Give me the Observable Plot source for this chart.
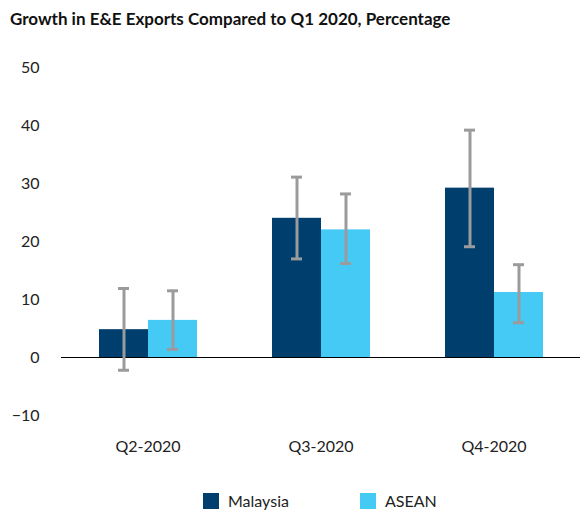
<!DOCTYPE html>
<html><head><meta charset="utf-8">
<script src="https://cdn.jsdelivr.net/npm/d3@7"></script>
<script src="https://cdn.jsdelivr.net/npm/@observablehq/plot@0.6"></script>
<style>
body{margin:0;background:#fff;font-family:Lato,"Noto Sans",sans-serif;}
#wrap{position:relative;width:587px;height:511px;}
#title{position:absolute;left:10px;top:8px;font-size:17px;font-weight:700;color:#111;white-space:nowrap;}
#chart{position:absolute;left:0;top:40px;}
#legend{position:absolute;top:491px;left:0;width:587px;font-size:16px;color:#222;}
.item{position:absolute;display:flex;align-items:center;}
.sw{width:16px;height:16px;margin-right:9px;}
</style></head>
<body><div id="wrap">
<div id="title">Growth in E&amp;E Exports Compared to Q1 2020, Percentage</div>
<div id="chart"></div>
<div id="legend"></div>
</div>
<script>
const quarters = ["Q2-2020","Q3-2020","Q4-2020"];
const seriesNames = ["Malaysia","ASEAN"];
const malaysia = [4.8, 24.0, 29.2];
const malaysiaLow = [-2.2, 17.0, 19.1];
const malaysiaHigh = [11.9, 31.1, 39.2];
const asean = [6.4, 22.0, 11.2];
const aseanLow = [1.4, 16.2, 6.0];
const aseanHigh = [11.5, 28.2, 16.0];
const colors = ["#003e6d", "#45c9f5"];
const yTicks = [-10, 0, 10, 20, 30, 40, 50];

const data = [];
quarters.forEach((q, i) => {
  data.push({q, s: "Malaysia", v: malaysia[i], lo: malaysiaLow[i], hi: malaysiaHigh[i]});
  data.push({q, s: "ASEAN", v: asean[i], lo: aseanLow[i], hi: aseanHigh[i]});
});

const chart = Plot.plot({
  width: 587, height: 420,
  marginLeft: 60, marginRight: 6, marginTop: 27, marginBottom: 45,
  style: {fontFamily: "Lato, 'Noto Sans', sans-serif", fontSize: "16px", color: "#222"},
  fx: {domain: quarters, paddingInner: 0, paddingOuter: 0, label: null},
  x: {domain: seriesNames, paddingInner: 0, paddingOuter: 0.735, axis: null},
  y: {domain: [-10, 50], ticks: yTicks, label: null},
  color: {domain: seriesNames, range: colors},
  marks: [
    Plot.axisY({ticks: yTicks, tickSize: 0, tickPadding: 22, label: null, fontSize: 16}),
    Plot.axisFx({anchor: "bottom", tickSize: 0, tickPadding: 25, label: null, fontSize: 16}),
    Plot.barY(data, {fx: "q", x: "s", y: "v", fill: "s"}),
    Plot.ruleY([0], {stroke: "#000", strokeWidth: 1}),
    Plot.ruleX(data, {fx: "q", x: "s", y1: "lo", y2: "hi", stroke: "#9a9b9d", strokeWidth: 3}),
    Plot.tickY(data, {fx: "q", x: "s", y: "lo", stroke: "#9a9b9d", strokeWidth: 3, insetLeft: 19, insetRight: 19}),
    Plot.tickY(data, {fx: "q", x: "s", y: "hi", stroke: "#9a9b9d", strokeWidth: 3, insetLeft: 19, insetRight: 19})
  ]
});
document.getElementById("chart").appendChild(chart);

const legend = document.getElementById("legend");
const lx = [203, 360];
seriesNames.forEach((n, i) => {
  const d = document.createElement("div");
  d.className = "item";
  d.style.left = lx[i] + "px";
  d.innerHTML = `<span class="sw" style="background:${colors[i]}"></span><span>${n}</span>`;
  legend.appendChild(d);
});
</script>
</body></html>
